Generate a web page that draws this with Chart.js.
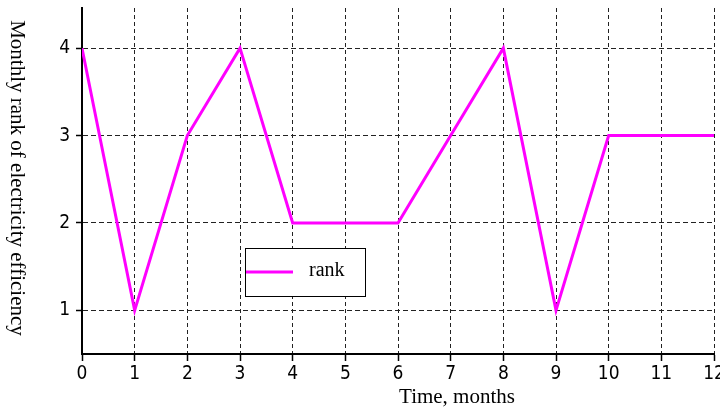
<!DOCTYPE html>
<html>
<head>
<meta charset="utf-8">
<script src="https://cdn.jsdelivr.net/npm/chart.js@4/dist/chart.umd.min.js"></script>
<style>
  html, body { margin: 0; padding: 0; background: #fff; }
  #wrap { width: 720px; height: 410px; }
</style>
</head>
<body>
<div id="wrap"><canvas id="rankChart" width="720" height="410"></canvas></div>
<script>
const months = [0, 1, 2, 3, 4, 5, 6, 7, 8, 9, 10, 11, 12];
const rank = [4, 1, 3, 4, 2, 2, 2, 3, 4, 1, 3, 3, 3];
const yTicks = [1, 2, 3, 4];
const seriesLabel = 'rank';
const xTitle = 'Time, months';
const yTitle = 'Monthly rank of electricity efficiency';

const points = months.map((m, i) => ({ x: m, y: rank[i] }));

// legend box + axis titles drawn by hand (y title reads top-down in the original)
const extras = {
    id: 'extras',
    afterDraw(chart) {
        const c = chart.ctx;
        const ds = chart.data.datasets[0];
        c.save();
        c.fillStyle = '#fff';
        c.fillRect(245, 248, 120, 48);
        c.strokeStyle = '#000';
        c.lineWidth = 1;
        c.strokeRect(245.5, 248.5, 120, 48);
        c.strokeStyle = ds.borderColor;
        c.lineWidth = 3;
        c.beginPath();
        c.moveTo(246, 272);
        c.lineTo(293, 272);
        c.stroke();
        c.fillStyle = '#000';
        c.font = '20px "Liberation Serif"';
        c.textBaseline = 'middle';
        c.fillText(ds.label, 309, 271);
        c.textAlign = 'center';
        c.font = '21px "Liberation Serif"';
        c.fillText(xTitle, 457, 397);
        c.translate(17, 178);
        c.rotate(Math.PI / 2);
        c.fillText(yTitle, 0, 0);
        c.restore();
    }
};

const tickFont = { family: '"Liberation Sans Narrow", "DejaVu Sans Condensed", sans-serif', size: 19 };

new Chart(document.getElementById('rankChart').getContext('2d'), {
    type: 'line',
    data: {
        datasets: [{
            label: seriesLabel,
            data: points,
            borderColor: '#ff00ff',
            backgroundColor: '#ff00ff',
            borderWidth: 3,
            pointRadius: 0,
            tension: 0
        }]
    },
    options: {
        responsive: false,
        animation: false,
        layout: { padding: { top: 8, right: 6, left: 0, bottom: 0 } },
        plugins: {
            legend: { display: false },
            tooltip: { enabled: false }
        },
        scales: {
            x: {
                type: 'linear',
                min: 0,
                max: 12,
                ticks: { stepSize: 1, color: '#000', padding: 2, font: tickFont },
                grid: {
                    color: '#222',
                    lineWidth: 1,
                    tickColor: '#000',
                    tickLength: 7,
                    tickBorderDash: [],
                    tickWidth: 1.5
                },
                border: { color: '#000', width: 2, dash: [4, 3] },
                afterFit(scale) {
                    scale.height = 56;
                    scale.paddingLeft = 0;
                    scale.paddingRight = 0;
                }
            },
            y: {
                type: 'linear',
                min: 0.5,
                max: 4.46,
                afterBuildTicks(scale) { scale.ticks = yTicks.map(v => ({ value: v })); },
                ticks: { color: '#000', padding: 6, font: tickFont },
                grid: {
                    color: '#222',
                    lineWidth: 1,
                    tickColor: '#000',
                    tickLength: 6,
                    tickBorderDash: [],
                    tickWidth: 1.5
                },
                border: { color: '#000', width: 2, dash: [5, 3] },
                afterFit(scale) {
                    scale.width = 82;
                    scale.paddingTop = 0;
                    scale.paddingBottom = 0;
                }
            }
        }
    },
    plugins: [extras]
});
</script>
</body>
</html>
